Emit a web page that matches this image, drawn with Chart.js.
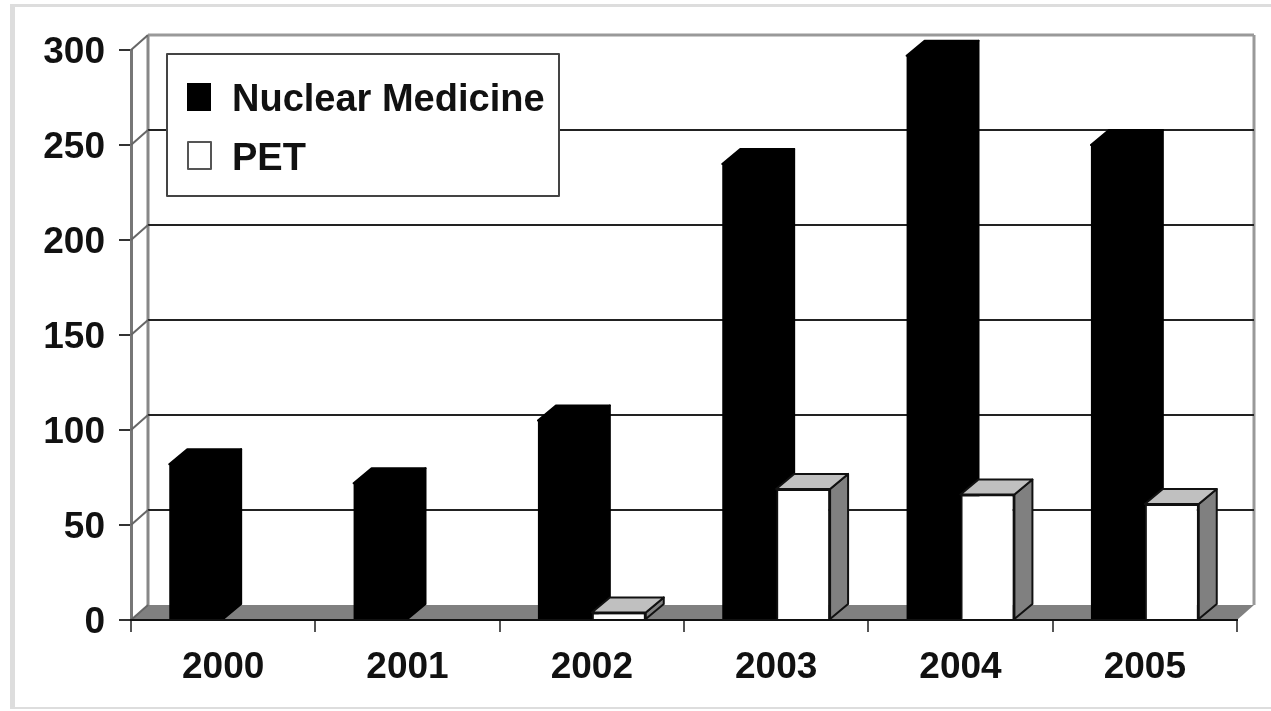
<!DOCTYPE html>
<html>
<head>
<meta charset="utf-8">
<style>
    body { margin: 0; background: #fff; }
    canvas { display: block; filter: blur(0.7px); }
</style>
<script src="https://cdn.jsdelivr.net/npm/chart.js@4"></script>
</head>
<body>
<canvas id="barChart" width="1271" height="711"></canvas>
<script>
// Data
const years = ["2000", "2001", "2002", "2003", "2004", "2005"];
const nuclearMedicine = [82, 72, 105, 240, 297, 250];
const pet = [null, null, 4, 69, 66, 61];

const labelFont = { family: "'Liberation Sans'", size: 37, weight: "bold" };
const depthX = 18;
const depthY = 15;
const wallX = 17;

function poly(ctx, points, fill, stroke) {
    ctx.beginPath();
    points.forEach((p, i) => i ? ctx.lineTo(p[0], p[1]) : ctx.moveTo(p[0], p[1]));
    ctx.closePath();
    ctx.fillStyle = fill;
    ctx.fill();
    if (stroke) {
        ctx.strokeStyle = stroke;
        ctx.lineWidth = 2;
        ctx.lineJoin = "round";
        ctx.stroke();
    }
}

function line(ctx, x1, y1, x2, y2, color, width) {
    ctx.beginPath();
    ctx.moveTo(x1, y1);
    ctx.lineTo(x2, y2);
    ctx.strokeStyle = color;
    ctx.lineWidth = width;
    ctx.stroke();
}

// Top and side of a bar, from the position the library gave it
function barDepth(ctx, bar, topColor, sideColor, stroke) {
    const left = bar.x - bar.width / 2;
    const right = bar.x + bar.width / 2;
    poly(ctx, [[right, bar.y], [right + depthX, bar.y - depthY], [right + depthX, bar.base - depthY], [right, bar.base]], sideColor, stroke);
    poly(ctx, [[left, bar.y], [left + depthX, bar.y - depthY], [right + depthX, bar.y - depthY], [right, bar.y]], topColor, stroke);
}

const depthPlugin = {
    id: "depth",
    beforeDraw(chart) {
        const ctx = chart.ctx;
        // Ram runt bilden
        ctx.fillStyle = "#ddd";
        ctx.fillRect(10, 4, 1261, 3);
        ctx.fillRect(10, 707, 1261, 2);
        ctx.fillRect(10, 4, 5, 705);
    },
    beforeDatasetsDraw(chart) {
        const ctx = chart.ctx;
        const { left, right } = chart.chartArea;
        const yScale = chart.scales.y;
        const zero = yScale.getPixelForValue(0);
        const top = yScale.getPixelForValue(300);

        // Golv och väggar
        poly(ctx, [[left, zero], [left + wallX, zero - depthY], [right + wallX, zero - depthY], [right, zero]], "#808080");
        line(ctx, left + wallX, top - depthY, left + wallX, zero - depthY, "#888", 3);
        line(ctx, right + wallX, top - depthY, right + wallX, zero - depthY, "#999", 3);

        yScale.ticks.forEach(tick => {
            const y = yScale.getPixelForValue(tick.value);
            if (tick.value > 0 && tick.value < 300) {
                line(ctx, left + wallX, y - depthY, right + wallX, y - depthY, "#222", 2);
            }
            if (tick.value === 300) {
                line(ctx, left + wallX, y - depthY, right + wallX, y - depthY, "#999", 3);
            }
            line(ctx, left, y, left + wallX, y - depthY, "#666", 2);
        });

        chart.getDatasetMeta(0).data.forEach(bar => barDepth(ctx, bar, "#000", "#000", "#000"));
    },
    afterDatasetsDraw(chart) {
        const ctx = chart.ctx;
        chart.getDatasetMeta(1).data.forEach((bar, i) => {
            if (pet[i] !== null) {
                barDepth(ctx, bar, "#c0c0c0", "#808080", "#111");
            }
        });
    },
    afterDraw(chart) {
        const ctx = chart.ctx;

        // Legend
        ctx.fillStyle = "#fff";
        ctx.fillRect(167, 54, 392, 142);
        ctx.strokeStyle = "#444";
        ctx.lineWidth = 2;
        ctx.strokeRect(167, 54, 392, 142);

        ctx.fillStyle = "#000";
        ctx.fillRect(187, 83, 24, 28);
        ctx.fillStyle = "#fff";
        ctx.fillRect(188, 142, 23, 27);
        ctx.strokeStyle = "#555";
        ctx.strokeRect(188, 142, 23, 27);

        ctx.fillStyle = "#111";
        ctx.font = "bold 38px 'Liberation Sans'";
        ctx.textAlign = "left";
        ctx.textBaseline = "alphabetic";
        ctx.fillText(chart.data.datasets[0].label, 232, 111);
        ctx.fillText(chart.data.datasets[1].label, 232, 170);
    }
};

new Chart(document.getElementById("barChart"), {
    type: "bar",
    data: {
        labels: years,
        datasets: [
            { label: "Nuclear Medicine", data: nuclearMedicine, backgroundColor: "#000" },
            { label: "PET", data: pet, backgroundColor: "#fff", borderColor: "#111", borderWidth: 2 }
        ]
    },
    options: {
        responsive: false,
        animation: false,
        clip: false,
        layout: { padding: { top: 50, right: 34 } },
        plugins: {
            legend: { display: false },
            tooltip: { enabled: false }
        },
        datasets: {
            bar: { categoryPercentage: 0.585, barPercentage: 1 }
        },
        scales: {
            x: {
                afterFit(scale) { scale.height = 91; },
                grid: { drawOnChartArea: false, color: "#555", lineWidth: 2, tickLength: 12 },
                border: { color: "#111", width: 2, z: 1 },
                ticks: { color: "#111", font: labelFont, padding: 14, maxRotation: 0 }
            },
            y: {
                min: 0,
                max: 300,
                afterFit(scale) { scale.width = 131; },
                grid: { drawOnChartArea: false, color: "#333", lineWidth: 2, tickLength: 12 },
                border: { color: "#777", width: 3 },
                ticks: { stepSize: 50, color: "#111", font: labelFont, padding: 14, labelOffset: 3 }
            }
        }
    },
    plugins: [depthPlugin]
});
</script>
</body>
</html>
